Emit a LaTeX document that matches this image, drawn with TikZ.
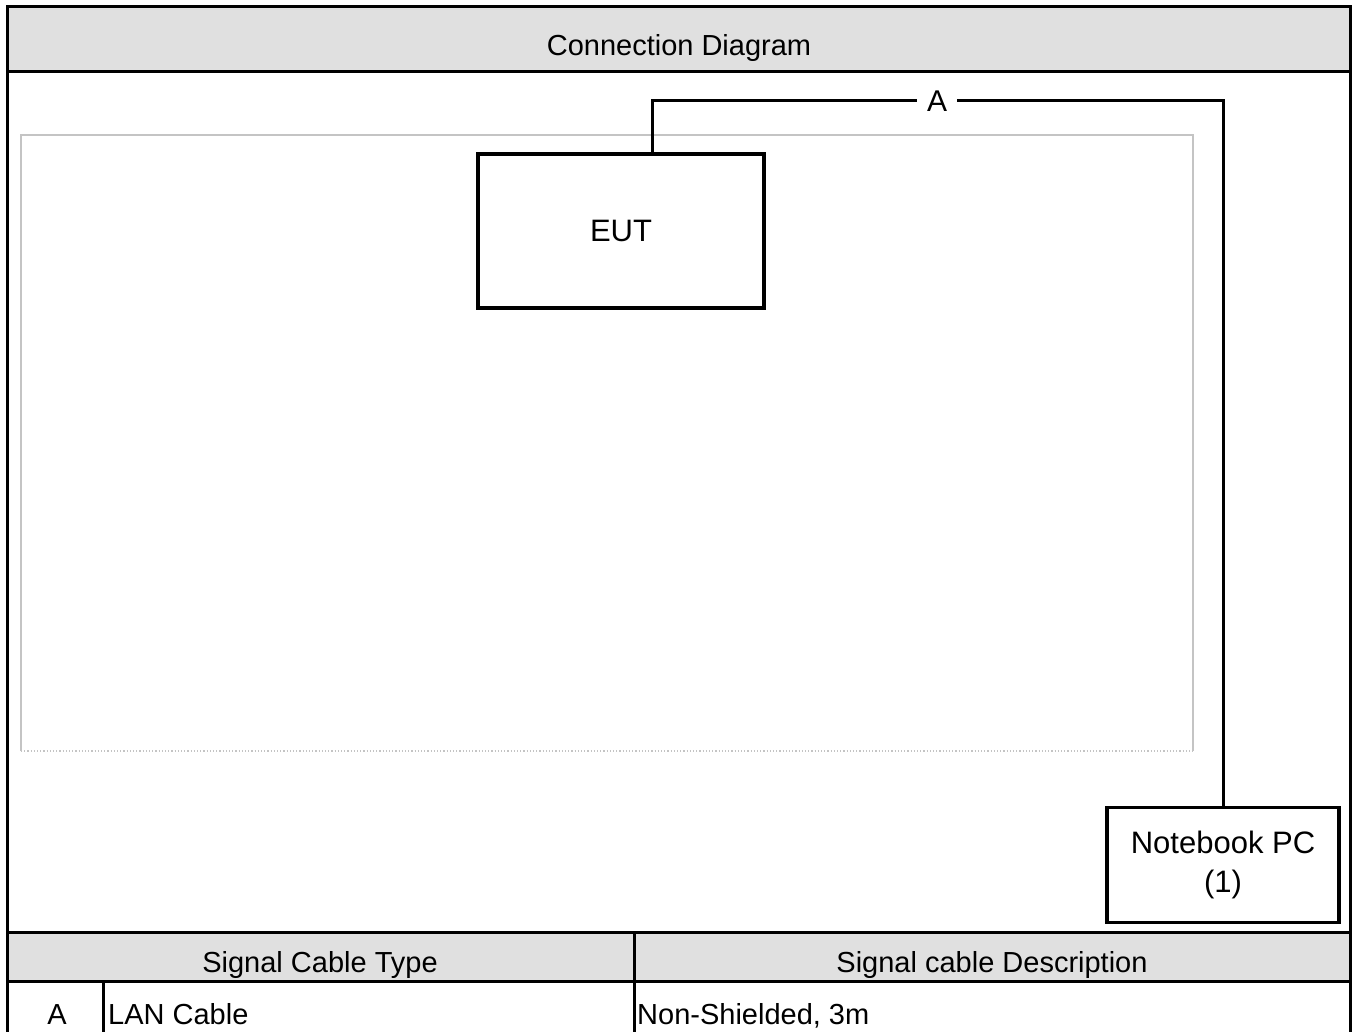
\documentclass[tikz,border=0pt]{standalone}
\usepackage{fontspec}
\setmainfont{Liberation Sans}
\usetikzlibrary{positioning}
\definecolor{hdrgrey}{HTML}{E0E0E0}
\definecolor{roomgrey}{HTML}{C4C4C4}

\begin{document}
\begin{tikzpicture}[x=1pt,y=-1pt,
    frame/.style={line width=3pt},
    box/.style={draw,line width=3.5pt,inner sep=0pt,font=\fontsize{31}{39}\selectfont},
    cable/.style={line width=3pt},
    txt/.style={font=\fontsize{29}{34}\selectfont,inner sep=0pt,anchor=base}]
  \useasboundingbox (0,0) rectangle (1357,1032);
  % grey bands
  \fill[hdrgrey] (7,7) rectangle (1350,72);
  \fill[hdrgrey] (7,932) rectangle (1350,981);
  % outer frame and table rules
  \draw[frame] (7,1045) -- (7,7) -- (1350,7) -- (1350,1045);
  \draw[frame] (7,72) -- (1350,72);
  \draw[frame] (7,932) -- (1350,932);
  \draw[frame] (7,981) -- (1350,981);
  \draw[frame] (634,932) -- (634,1045);
  \draw[frame] (103,981) -- (103,1045);
  % test room
  \draw[roomgrey,line width=1.2pt] (21,751) -- (21,135) -- (1193,135) -- (1193,751);
  \draw[roomgrey,line width=1.2pt,dotted] (21,751) -- (1193,751);

  \node[txt] (title) at (679,56) {Connection Diagram};

  \node[box,minimum width=286pt,minimum height=154pt] (eut) at (621,231) {EUT};
  \node[box,minimum width=232pt,minimum height=115pt,align=center] (notebook) at (1223,865) {Notebook PC\\(1)};
  \node[font=\fontsize{30}{34}\selectfont,fill=white,inner xsep=10pt,inner ysep=2pt] (lblA) at (937,101) {A};

  \draw[cable] ([xshift=31pt]eut.north) |- (lblA.west);
  \draw[cable] (lblA.east) -| (notebook.north);

  % cable table
  \node[txt] (typehdr) at (320,972) {Signal Cable Type};
  \node[txt] (deschdr) at (992,972) {Signal cable Description};
  \node[txt] (cableid) at (57,1024) {A};
  \node[txt,anchor=base west] (cabletype) at (108,1024) {LAN Cable};
  \node[txt,anchor=base west] (cabledesc) at (637,1024) {Non-Shielded, 3m};
\end{tikzpicture}
\end{document}
